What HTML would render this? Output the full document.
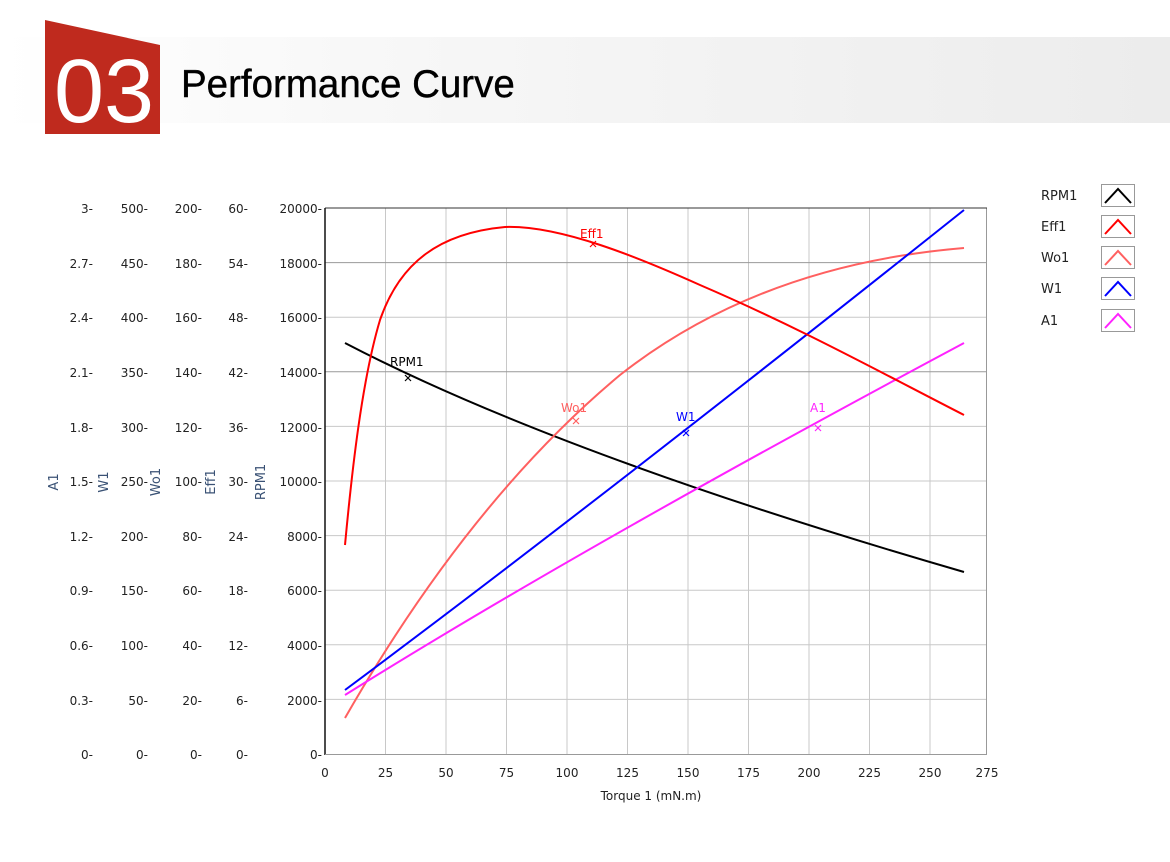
<!DOCTYPE html>
<html><head><meta charset="utf-8"><style>
html,body{margin:0;padding:0;background:#fff;}
svg{display:block;font-family:"DejaVu Sans","Liberation Sans",sans-serif;}
</style></head><body>
<svg width="1170" height="862" viewBox="0 0 1170 862" xmlns="http://www.w3.org/2000/svg">
<defs><linearGradient id="g" x1="0" x2="1"><stop offset="0" stop-color="#ffffff"/><stop offset="0.35" stop-color="#f7f7f7"/><stop offset="1" stop-color="#ececec"/></linearGradient></defs>
<rect x="0" y="37" width="1170" height="86" fill="url(#g)"/>
<polygon points="45,20 160,45 160,134 45,134" fill="#bf2a1e"/>
<text x="104" y="122" font-family="Liberation Sans,sans-serif" font-size="90" fill="#fff" text-anchor="middle">03</text>
<text x="181" y="97" font-family="Liberation Sans,sans-serif" font-size="38.5" fill="#000" stroke="#000" stroke-width="0.4">Performance Curve</text>

<g stroke="#c8c8c8" stroke-width="1">
<line x1="385.5" y1="208" x2="385.5" y2="754"/><line x1="446" y1="208" x2="446" y2="754"/><line x1="506.5" y1="208" x2="506.5" y2="754"/><line x1="567" y1="208" x2="567" y2="754"/><line x1="627.5" y1="208" x2="627.5" y2="754"/><line x1="688" y1="208" x2="688" y2="754"/><line x1="748.5" y1="208" x2="748.5" y2="754"/><line x1="809" y1="208" x2="809" y2="754"/><line x1="869.5" y1="208" x2="869.5" y2="754"/><line x1="930" y1="208" x2="930" y2="754"/>
<line x1="325" y1="699.4" x2="987" y2="699.4"/><line x1="325" y1="644.8" x2="987" y2="644.8"/><line x1="325" y1="590.2" x2="987" y2="590.2"/><line x1="325" y1="535.6" x2="987" y2="535.6"/><line x1="325" y1="481" x2="987" y2="481"/><line x1="325" y1="426.4" x2="987" y2="426.4"/><line x1="325" y1="317.2" x2="987" y2="317.2"/>
</g>
<g stroke="#999" stroke-width="1"><line x1="325" y1="371.8" x2="987" y2="371.8"/><line x1="325" y1="262.6" x2="987" y2="262.6"/><line x1="986.5" y1="208" x2="986.5" y2="754"/></g>
<line x1="325" y1="208" x2="987" y2="208" stroke="#333"/>
<line x1="325" y1="208" x2="325" y2="755" stroke="#111" stroke-width="1.5"/>
<line x1="325" y1="754.5" x2="987" y2="754.5" stroke="#999"/>

<g font-size="12" fill="#222" text-anchor="middle">
<text x="325" y="777">0</text><text x="385.5" y="777">25</text><text x="446" y="777">50</text><text x="506.5" y="777">75</text><text x="567" y="777">100</text><text x="627.5" y="777">125</text><text x="688" y="777">150</text><text x="748.5" y="777">175</text><text x="809" y="777">200</text><text x="869.5" y="777">225</text><text x="930" y="777">250</text><text x="987" y="777">275</text>
<text x="651" y="800">Torque 1 (mN.m)</text>
</g>

<g font-size="12" fill="#222" text-anchor="end">
<g transform="translate(93,0)"><text y="213">3-</text><text y="268">2.7-</text><text y="322">2.4-</text><text y="377">2.1-</text><text y="432">1.8-</text><text y="486">1.5-</text><text y="541">1.2-</text><text y="595">0.9-</text><text y="650">0.6-</text><text y="705">0.3-</text><text y="759">0-</text></g>
<g transform="translate(148,0)"><text y="213">500-</text><text y="268">450-</text><text y="322">400-</text><text y="377">350-</text><text y="432">300-</text><text y="486">250-</text><text y="541">200-</text><text y="595">150-</text><text y="650">100-</text><text y="705">50-</text><text y="759">0-</text></g>
<g transform="translate(202,0)"><text y="213">200-</text><text y="268">180-</text><text y="322">160-</text><text y="377">140-</text><text y="432">120-</text><text y="486">100-</text><text y="541">80-</text><text y="595">60-</text><text y="650">40-</text><text y="705">20-</text><text y="759">0-</text></g>
<g transform="translate(248,0)"><text y="213">60-</text><text y="268">54-</text><text y="322">48-</text><text y="377">42-</text><text y="432">36-</text><text y="486">30-</text><text y="541">24-</text><text y="595">18-</text><text y="650">12-</text><text y="705">6-</text><text y="759">0-</text></g>
<g transform="translate(322,0)"><text y="213">20000-</text><text y="268">18000-</text><text y="322">16000-</text><text y="377">14000-</text><text y="432">12000-</text><text y="486">10000-</text><text y="541">8000-</text><text y="595">6000-</text><text y="650">4000-</text><text y="705">2000-</text><text y="759">0-</text></g>
</g>
<g font-size="13" fill="#3a5275" text-anchor="middle">
<text transform="translate(58,482) rotate(-90)">A1</text>
<text transform="translate(108,482) rotate(-90)">W1</text>
<text transform="translate(160,482) rotate(-90)">Wo1</text>
<text transform="translate(215,482) rotate(-90)">Eff1</text>
<text transform="translate(265,482) rotate(-90)">RPM1</text>
</g>

<g fill="none" stroke-width="2" stroke-linejoin="round">
<path stroke="#000" d="M345,343 Q560,455 964,572"/>
<path stroke="#ff6060" d="M345,718 Q470,500 620,375 Q760,265 964,248"/>
<path stroke="#0000ff" d="M345,690 Q600,500 964,210"/>
<path stroke="#ff22ff" d="M345,695 Q580,548 964,343"/>
<path stroke="#ff0000" d="M345,545 C352,470 362,380 380,320 C400,262 440,233 505,227 C560,225 640,258 700,285 C800,328 880,372 964,415"/>
</g>
<g stroke-width="1.2" fill="none">
<path d="M405,375l6,6m0,-6l-6,6" stroke="#000"/>
<path d="M590,241l6,6m0,-6l-6,6" stroke="#ff0000"/>
<path d="M573,418l6,6m0,-6l-6,6" stroke="#ff6060"/>
<path d="M683,430l6,6m0,-6l-6,6" stroke="#0000ff"/>
<path d="M815,425l6,6m0,-6l-6,6" stroke="#ff22ff"/>
</g>
<g font-size="12">
<text x="390" y="366" fill="#000">RPM1</text>
<text x="580" y="238" fill="#ff0000">Eff1</text>
<text x="561" y="412" fill="#ff6060">Wo1</text>
<text x="676" y="421" fill="#0000ff">W1</text>
<text x="810" y="412" fill="#ff22ff">A1</text>
</g>

<g font-size="13" fill="#222">
<text x="1041" y="200">RPM1</text><text x="1041" y="231">Eff1</text><text x="1041" y="262">Wo1</text><text x="1041" y="293">W1</text><text x="1041" y="325">A1</text>
</g>
<g fill="#fff" stroke="#999">
<rect x="1101.5" y="184.5" width="33" height="22"/><rect x="1101.5" y="215.5" width="33" height="22"/><rect x="1101.5" y="246.5" width="33" height="22"/><rect x="1101.5" y="277.5" width="33" height="22"/><rect x="1101.5" y="309.5" width="33" height="22"/>
</g>
<g fill="none" stroke-width="2">
<polyline stroke="#000" points="1105,203 1118,189 1131,203"/>
<polyline stroke="#ff0000" points="1105,234 1118,220 1131,234"/>
<polyline stroke="#ff6060" points="1105,265 1118,251 1131,265"/>
<polyline stroke="#0000ff" points="1105,296 1118,282 1131,296"/>
<polyline stroke="#ff22ff" points="1105,328 1118,314 1131,328"/>
</g>
</svg>
</body></html>
